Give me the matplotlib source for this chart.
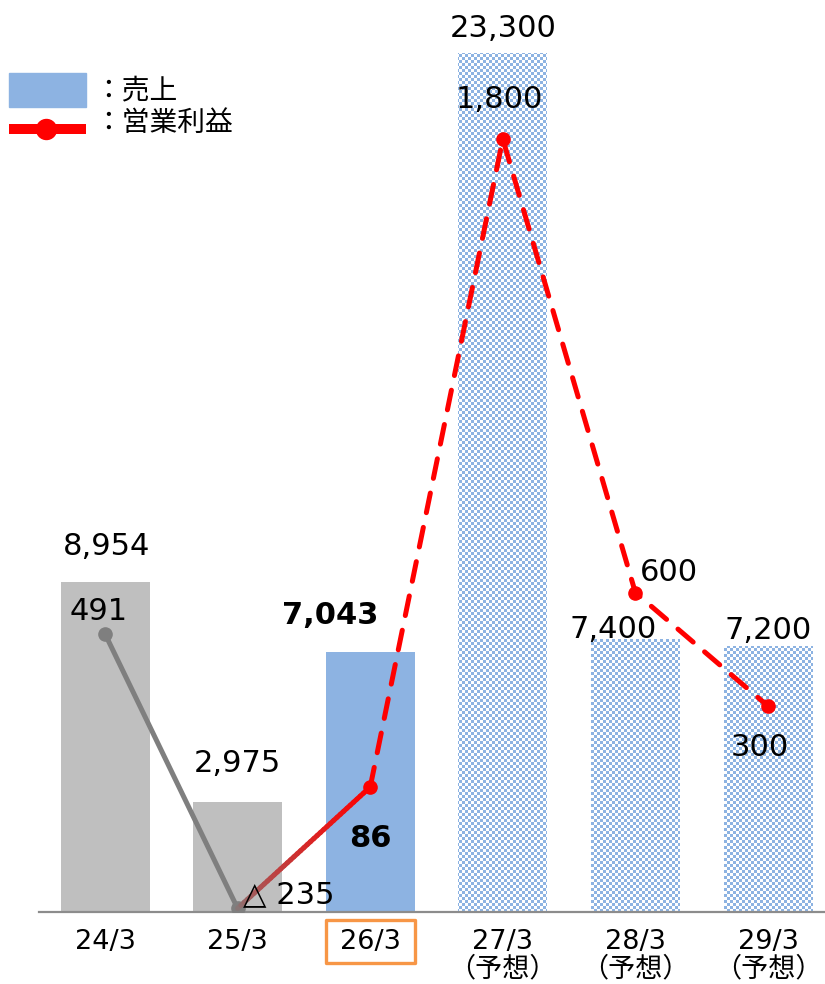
import numpy as np
import matplotlib.pyplot as plt
import matplotlib.transforms as mtransforms
from matplotlib.collections import LineCollection
from matplotlib.colors import ListedColormap, to_rgb
from matplotlib.lines import Line2D
from matplotlib.patches import Rectangle

plt.rcParams['font.family'] = ['DejaVu Sans', 'Noto Sans CJK JP']

# fiscal periods, sales (bars) and operating profit (line)
periods = ['24/3', '25/3', '26/3', '27/3', '28/3', '29/3']
forecast = [False, False, False, True, True, True]
sales = [8954, 2975, 7043, 23300, 7400, 7200]
profit = [491, -235, 86, 1800, 600, 300]
sales_text = ['8,954', '2,975', '7,043', '23,300', '7,400', '7,200']
profit_text = ['491', '△ 235', '86', '1,800', '600', '300']
current = 2  # the highlighted period

# label offsets in pixels (dx, dy from the bar top / point)
sales_off = [(2, 27), (0, 30), (-40, 28), (0, 16), (-22, 1), (0, 7)]
profit_off = [(-6, 14), (5, 5), (0, -60), (-3, 31), (4, 12), (-8, -50)]
profit_ha = ['center', 'left', 'center', 'center', 'left', 'center']

W, H = 825, 984
GRAY = '#bfbfbf'
BLUE = '#8db3e2'
CHECK = '#8db3e2'
RED = '#ff0000'
LINE_GRAY = '#7f7f7f'

fig = plt.figure(figsize=(W / 100, H / 100), dpi=100)
ax = fig.add_axes([39 / W, (H - 912) / H, (W - 39) / W, (912 - 40) / H])
x = np.arange(len(periods))
xlim = (-0.498, 5.43)
ylim = (0, 23640)

bw = 0.671
colors = [BLUE if i == current else (GRAY if i < current else 'none')
          for i in range(len(periods))]
bars = ax.bar(x, sales, width=bw, color=colors, linewidth=0, zorder=2)

# forecast bars get a fine checker fill
ny, nx = 291, 262
checker = (np.add.outer(np.arange(ny), np.arange(nx)) % 2).astype(float)
for bar, fc in zip(bars, forecast):
    if fc:
        im = ax.imshow(checker, cmap=ListedColormap(['white', CHECK]),
                       extent=xlim + ylim, aspect='auto',
                       interpolation='nearest', zorder=2)
        im.set_clip_path(bar)

ax.set_xlim(*xlim)
ax.set_ylim(*ylim)
for s in ['top', 'left', 'right']:
    ax.spines[s].set_visible(False)
ax.spines['bottom'].set_color('#8c8c8c')
ax.spines['bottom'].set_linewidth(1.6)
ax.set_yticks([])
ticklabels = [p + ('\n（予想）' if f else '') for p, f in zip(periods, forecast)]
ax.set_xticks(x, ticklabels, fontsize=19.5, linespacing=1.08)
ax.tick_params(axis='x', length=0, pad=12)

# highlight box round the current period label
trans = mtransforms.blended_transform_factory(ax.transData, ax.transAxes)
ax.add_patch(Rectangle((x[current] - bw / 2, -51 / 872), bw, 43 / 872,
                       transform=trans, fill=False, ec='#f79646', lw=2.4,
                       joinstyle='round', clip_on=False))

for i, (v, t) in enumerate(zip(sales, sales_text)):
    dx, dy = sales_off[i]
    ax.annotate(t, (x[i], v), xytext=(dx * 0.72, dy * 0.72),
                textcoords='offset points', ha='center', va='baseline',
                fontsize=22, fontweight='bold' if i == current else 'normal',
                zorder=5)

# operating profit on a second scale
ax2 = ax.twinx()
ax2.set_ylim(-244.7, 2062)
ax2.set_yticks([])
for s in ax2.spines.values():
    s.set_visible(False)

lw = 3.6
ax2.plot(x[:2], profit[:2], color=LINE_GRAY, lw=lw, marker='o', ms=9.5,
         solid_capstyle='round', zorder=3)

# colour ramp from grey to red on the 25/3 -> 26/3 segment
t = np.linspace(0, 1, 41)
px = x[1] + t * (x[2] - x[1])
py = profit[1] + t * (profit[2] - profit[1])
segs = np.stack([np.column_stack([px[:-1], py[:-1]]),
                 np.column_stack([px[1:], py[1:]])], axis=1)
c0, c1 = np.array(to_rgb(LINE_GRAY)), np.array(to_rgb(RED))
tm = ((t[:-1] + t[1:]) / 2) ** 0.6
ramp = c0 + np.outer(tm, c1 - c0)
ax2.add_collection(LineCollection(segs, colors=ramp, linewidths=lw,
                                  capstyle='round', zorder=3))

ax2.plot(x[current:], profit[current:], color=RED, lw=lw, dashes=(4, 3),
         dash_capstyle='round', zorder=3)
ax2.plot(x[current:], profit[current:], 'o', color=RED, ms=9.5, zorder=4)

for i, (v, t_) in enumerate(zip(profit, profit_text)):
    dx, dy = profit_off[i]
    ax2.annotate(t_, (x[i], v), xytext=(dx * 0.72, dy * 0.72),
                 textcoords='offset points', ha=profit_ha[i], va='baseline',
                 fontsize=22, fontweight='bold' if i == current else 'normal',
                 zorder=5)

# legend
fig.add_artist(Rectangle((9 / W, 1 - 107 / H), 77 / W, 34 / H,
                         transform=fig.transFigure, color=BLUE))
fig.add_artist(Line2D([14 / W, 81 / W], [1 - 129 / H] * 2, lw=7.2,
                      color=RED, transform=fig.transFigure))
fig.add_artist(Line2D([46 / W], [1 - 129 / H], marker='o', ms=14.4,
                      color=RED, transform=fig.transFigure))
fig.text(94 / W, 1 - 90 / H, '：売上', fontsize=20, va='center')
fig.text(94 / W, 1 - 123 / H, '：営業利益', fontsize=20, va='center')

fig.savefig('out.png', dpi=100)
